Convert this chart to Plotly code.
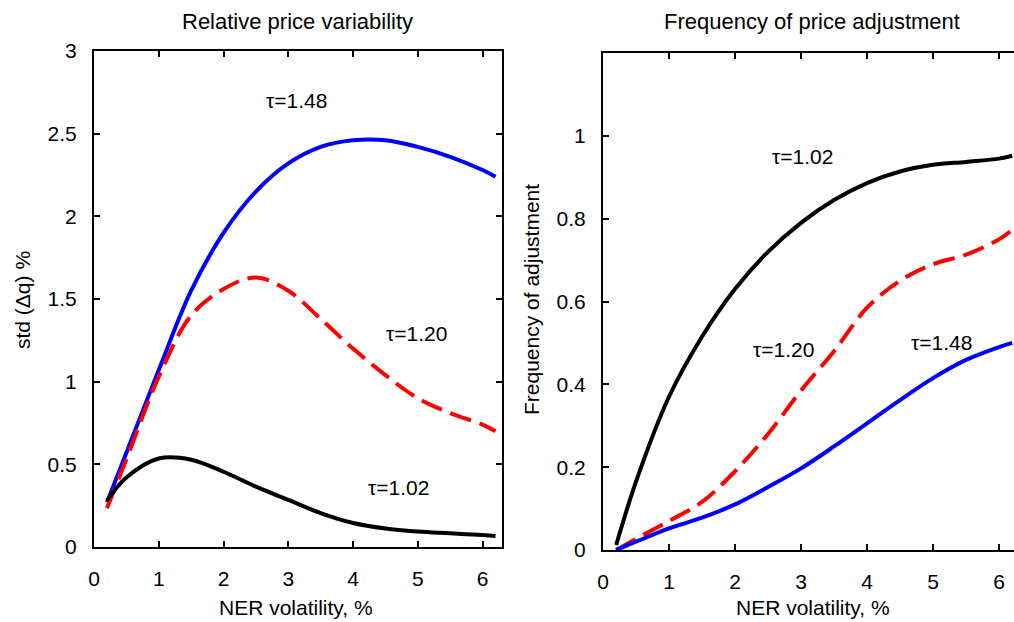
import plotly.graph_objects as go

# ---- data ----
ner_vol = [0.2, 0.5, 1.0, 1.5, 2.0, 2.5, 3.0, 3.5, 4.0, 4.5, 5.0, 5.5, 6.0, 6.2]

# Relative price variability, std(dq) %
std_148 = [0.27, 0.57, 1.07, 1.55, 1.90, 2.15, 2.32, 2.42, 2.46, 2.46, 2.42, 2.36, 2.28, 2.24]
std_120 = [0.235, 0.53, 1.03, 1.40, 1.56, 1.63, 1.55, 1.38, 1.20, 1.04, 0.90, 0.81, 0.74, 0.70]
std_102 = [0.28, 0.42, 0.535, 0.528, 0.455, 0.365, 0.285, 0.205, 0.145, 0.112, 0.094, 0.083, 0.072, 0.067]

# Frequency of price adjustment
freq_102 = [0.012, 0.165, 0.37, 0.515, 0.63, 0.72, 0.79, 0.845, 0.886, 0.914, 0.93, 0.937, 0.945, 0.952]
freq_120 = [0.0, 0.027, 0.07, 0.116, 0.19, 0.28, 0.385, 0.48, 0.585, 0.65, 0.69, 0.713, 0.75, 0.773]
freq_148 = [0.0, 0.02, 0.052, 0.078, 0.11, 0.152, 0.197, 0.25, 0.306, 0.362, 0.415, 0.459, 0.49, 0.50]

left_ticks = [0, 0.5, 1, 1.5, 2, 2.5, 3]
right_ticks = [0, 0.2, 0.4, 0.6, 0.8, 1]
x_ticks = [0, 1, 2, 3, 4, 5, 6]

BLUE = "rgb(0,0,255)"
RED = "rgb(255,0,0)"
BLACK = "rgb(0,0,0)"
DASH = "22px,9px"

W, H = 1014, 622
def fx(px):
    return px / W
def fy(py):
    return 1 - py / H

fig = go.Figure()
fig.add_trace(go.Scatter(x=ner_vol, y=std_148, mode="lines", line=dict(color=BLUE, width=4, shape="spline"), xaxis="x", yaxis="y"))
fig.add_trace(go.Scatter(x=ner_vol, y=std_120, mode="lines", line=dict(color=RED, width=4, dash=DASH, shape="spline"), xaxis="x", yaxis="y"))
fig.add_trace(go.Scatter(x=ner_vol, y=std_102, mode="lines", line=dict(color=BLACK, width=4, shape="spline"), xaxis="x", yaxis="y"))

fig.add_trace(go.Scatter(x=ner_vol, y=freq_102, mode="lines", line=dict(color=BLACK, width=4, shape="spline"), xaxis="x2", yaxis="y2"))
fig.add_trace(go.Scatter(x=ner_vol, y=freq_120, mode="lines", line=dict(color=RED, width=4, dash=DASH, shape="spline"), xaxis="x2", yaxis="y2"))
fig.add_trace(go.Scatter(x=ner_vol, y=freq_148, mode="lines", line=dict(color=BLUE, width=4, shape="spline"), xaxis="x2", yaxis="y2"))

FONT = "Liberation Sans, Arial, sans-serif"
tickfont = dict(family=FONT, size=21, color="black")
labelfont = dict(family=FONT, size=21, color="black")
titlefont = dict(family=FONT, size=22, color="black")

common_axis = dict(showgrid=False, zeroline=False, showline=True, linecolor="black", linewidth=2,
                   ticks="inside", ticklen=6, tickwidth=1.5, tickcolor="black", tickfont=tickfont,
                   automargin=False)

fig.update_layout(
    width=W, height=H,
    margin=dict(l=0, r=0, t=0, b=0),
    paper_bgcolor="white", plot_bgcolor="white",
    showlegend=False,
    xaxis=dict(domain=[fx(94), fx(502)], range=[0, 6.3], tickvals=x_ticks, mirror="ticks",
               anchor="y", ticklabelstandoff=12, **common_axis),
    yaxis=dict(domain=[fy(547), fy(51)], range=[0, 3], tickvals=left_ticks, mirror="ticks",
               anchor="x", ticklabelstandoff=11, **common_axis),
    xaxis2=dict(domain=[fx(603), 1.0], range=[0, 6.227], tickvals=x_ticks, mirror="ticks",
                anchor="y2", ticklabelstandoff=12, **common_axis),
    yaxis2=dict(domain=[fy(550), fy(53)], range=[0, 1.2], tickvals=right_ticks, mirror=False,
                anchor="x2", ticklabelstandoff=11, **common_axis),
    annotations=[
        dict(text="Relative price variability", x=fx(297), y=fy(22), xref="paper", yref="paper",
             showarrow=False, font=titlefont, xanchor="center", yanchor="middle"),
        dict(text="Frequency of price adjustment", x=fx(812), y=fy(22), xref="paper", yref="paper",
             showarrow=False, font=titlefont, xanchor="center", yanchor="middle"),
        dict(text="NER volatility, %", x=fx(296), y=fy(607), xref="paper", yref="paper",
             showarrow=False, font=labelfont, xanchor="center", yanchor="middle"),
        dict(text="NER volatility, %", x=fx(813), y=fy(607), xref="paper", yref="paper",
             showarrow=False, font=labelfont, xanchor="center", yanchor="middle"),
        dict(text="std (Δq) %", x=fx(22), y=fy(300), xref="paper", yref="paper", textangle=-90,
             showarrow=False, font=labelfont, xanchor="center", yanchor="middle"),
        dict(text="Frequency of adjustment", x=fx(531), y=fy(300), xref="paper", yref="paper", textangle=-90,
             showarrow=False, font=labelfont, xanchor="center", yanchor="middle"),
        dict(text="τ=1.48", x=3.13, y=2.70, xref="x", yref="y", showarrow=False, font=labelfont),
        dict(text="τ=1.20", x=4.98, y=1.29, xref="x", yref="y", showarrow=False, font=labelfont),
        dict(text="τ=1.02", x=4.7, y=0.36, xref="x", yref="y", showarrow=False, font=labelfont),
        dict(text="τ=1.02", x=3.03, y=0.95, xref="x2", yref="y2", showarrow=False, font=labelfont),
        dict(text="τ=1.20", x=2.73, y=0.485, xref="x2", yref="y2", showarrow=False, font=labelfont),
        dict(text="τ=1.48", x=5.13, y=0.50, xref="x2", yref="y2", showarrow=False, font=labelfont),
    ],
)

# remove the default 8px page margin so the figure fills the window exactly
fig.write_html("out.html", config={"displayModeBar": False},
               post_script="document.body.style.margin='0';document.body.style.overflow='hidden';")
